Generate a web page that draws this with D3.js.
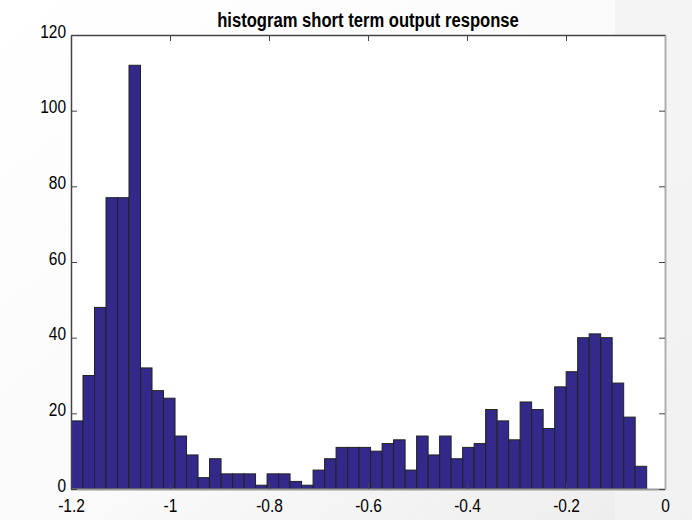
<!DOCTYPE html>
<html>
<head>
<meta charset="utf-8">
<script src="https://cdn.jsdelivr.net/npm/d3@7"></script>
<style>
  html, body { margin: 0; padding: 0; background: #ffffff; }
  svg { display: block; }
  text { font-family: "Liberation Sans", Arial, sans-serif; }
</style>
</head>
<body>
<svg id="chart" width="692" height="520"></svg>
<script>
// ---- data ----
const title = "histogram short term output response";
const counts = [18,30,48,77,77,112,32,26,24,14,9,3,8,4,4,4,1,4,4,2,1,5,8,11,11,11,10,12,13,5,14,9,14,8,11,12,21,18,13,23,21,16,27,31,40,41,40,28,19,6];
const binStart = -1.199;
const binEnd = -0.037;
const xTicks = [-1.2, -1, -0.8, -0.6, -0.4, -0.2, 0];
const yTicks = [0, 20, 40, 60, 80, 100, 120];

// ---- layout ----
const W = 692, H = 520;
const m = { left: 71, right: 27, top: 35, bottom: 31 };
const svg = d3.select("#chart");

// background (slide-like light gradient)
const defs = svg.append("defs");
const g1 = defs.append("linearGradient").attr("id", "bgGrad").attr("x1", "0").attr("y1", "0").attr("x2", "1").attr("y2", "1");
g1.append("stop").attr("offset", "0%").attr("stop-color", "#ffffff");
g1.append("stop").attr("offset", "55%").attr("stop-color", "#fafafa");
g1.append("stop").attr("offset", "100%").attr("stop-color", "#ececec");
svg.append("rect").attr("width", W).attr("height", H).attr("fill", "url(#bgGrad)");
svg.append("rect").attr("x", 615).attr("y", 0).attr("width", W - 615).attr("height", H).attr("fill", "#f3f3f3").attr("opacity", 0.8);

const x = d3.scaleLinear().domain([-1.2, 0]).range([m.left, W - m.right]);
const y = d3.scaleLinear().domain([0, 120]).range([H - m.bottom, m.top]);

// plot area
svg.append("rect")
  .attr("x", x.range()[0]).attr("y", y.range()[1])
  .attr("width", x.range()[1] - x.range()[0])
  .attr("height", y.range()[0] - y.range()[1])
  .attr("fill", "#ffffff");

// bars
const bw = (binEnd - binStart) / counts.length;
const bins = counts.map((c, i) => ({ x0: binStart + i * bw, x1: binStart + (i + 1) * bw, c }));
svg.append("g").selectAll("rect").data(bins).join("rect")
  .attr("x", d => x(d.x0))
  .attr("y", d => y(d.c))
  .attr("width", d => x(d.x1) - x(d.x0))
  .attr("height", d => y(0) - y(d.c))
  .attr("fill", "#33298a")
  .attr("stroke", "#222222")
  .attr("stroke-width", 1);

const fmt = d => String(+d.toFixed(1));

// axes (inward ticks, MATLAB box)
const axB = svg.append("g").attr("transform", `translate(0,${y(0)})`)
  .call(d3.axisBottom(x).tickValues(xTicks).tickFormat(fmt).tickSizeInner(-6).tickSizeOuter(0).tickPadding(10));
const axT = svg.append("g").attr("transform", `translate(0,${y(120)})`)
  .call(d3.axisTop(x).tickValues(xTicks).tickFormat("").tickSizeInner(-6).tickSizeOuter(0));
const axL = svg.append("g").attr("transform", `translate(${x(-1.2)},0)`)
  .call(d3.axisLeft(y).tickValues(yTicks).tickFormat(fmt).tickSizeInner(-6).tickSizeOuter(0).tickPadding(5));
const axR = svg.append("g").attr("transform", `translate(${x(0)},0)`)
  .call(d3.axisRight(y).tickValues(yTicks).tickFormat("").tickSizeInner(-6).tickSizeOuter(0));

// condensed look: squeeze text horizontally
function condense(sel, factor) {
  sel.each(function () {
    const w = this.getComputedTextLength();
    if (w > 0) d3.select(this).attr("textLength", w * factor).attr("lengthAdjust", "spacingAndGlyphs");
  });
}

[axB, axT, axL, axR].forEach(a => {
  a.selectAll(".tick line").attr("stroke", "#444").attr("stroke-width", 1);
  a.selectAll("text").attr("font-size", 18).attr("fill", "#000");
});
axL.selectAll("text").attr("dy", "0.12em");
condense(axB.selectAll("text"), 0.86);
condense(axL.selectAll("text"), 0.86);
axT.select(".domain").attr("stroke", "#444").attr("stroke-width", 1.5);
axL.select(".domain").attr("stroke", "#444").attr("stroke-width", 1.5);
axB.select(".domain").attr("stroke", "#9a9a9a").attr("stroke-width", 2);
axR.select(".domain").attr("stroke", "#b0b0b0").attr("stroke-width", 2);

// title
const t = svg.append("text")
  .attr("x", (x.range()[0] + x.range()[1]) / 2)
  .attr("y", 27)
  .attr("text-anchor", "middle")
  .attr("font-size", 20)
  .attr("font-weight", "bold")
  .attr("fill", "#000")
  .text(title);
condense(t, 0.83);
</script>
</body>
</html>
